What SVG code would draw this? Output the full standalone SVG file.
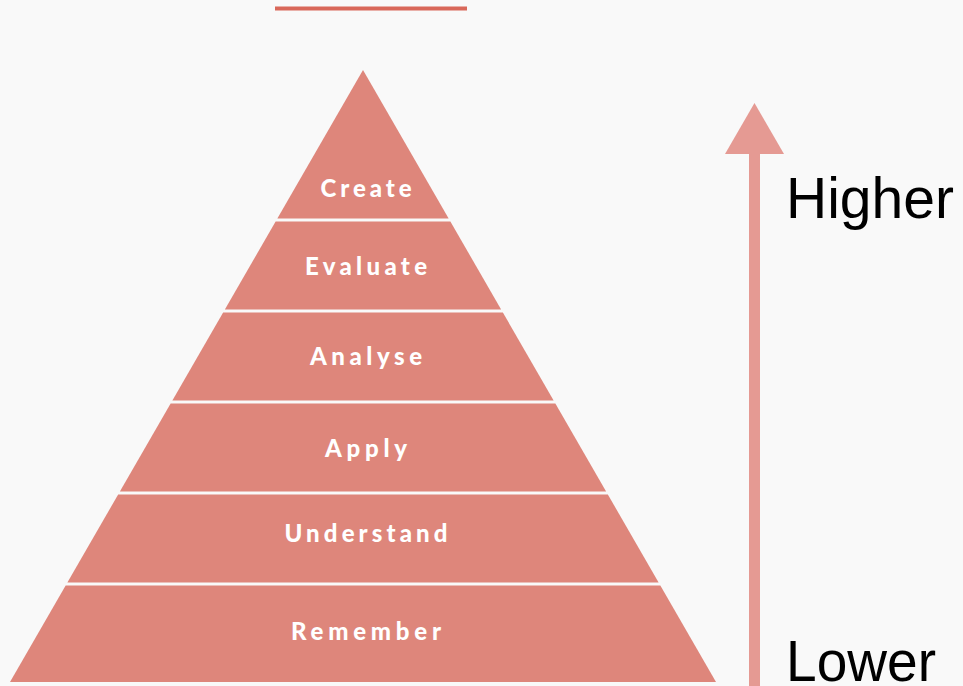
<svg xmlns="http://www.w3.org/2000/svg" width="963" height="686" viewBox="0 0 963 686">
<style>
.band{fill:#de867b}
.lbl{font-family:Lato,"Open Sans","Liberation Sans",sans-serif;font-weight:900;font-size:24px;fill:#ffffff;text-anchor:middle}
.big{font-family:"Liberation Sans",Arial,sans-serif;font-size:57px;fill:#000000}
</style>
<rect width="963" height="686" fill="#f9f9f9"/>
<rect x="275" y="6.5" width="192" height="4" fill="#d9685a"/>
<g id="create"><polygon class="band" points="363,70 448.65,218.5 277.35,218.5"/><text class="lbl" x="366" y="197" textLength="91" lengthAdjust="spacing">Create</text></g>
<g id="evaluate"><polygon class="band" points="275.62,221.5 450.38,221.5 501.14,309.5 224.86,309.5"/><text class="lbl" x="366" y="275" textLength="122" lengthAdjust="spacing">Evaluate</text></g>
<g id="analyse"><polygon class="band" points="223.13,312.5 502.87,312.5 553.63,400.5 172.37,400.5"/><text class="lbl" x="366" y="365" textLength="112" lengthAdjust="spacing">Analyse</text></g>
<g id="apply"><polygon class="band" points="170.64,403.5 555.36,403.5 606.12,491.5 119.88,491.5"/><text class="lbl" x="366" y="457" textLength="82" lengthAdjust="spacing">Apply</text></g>
<g id="understand"><polygon class="band" points="118.15,494.5 607.85,494.5 658.61,582.5 67.39,582.5"/><text class="lbl" x="366" y="542" textLength="163" lengthAdjust="spacing">Understand</text></g>
<g id="remember"><polygon class="band" points="65.66,585.5 660.34,585.5 716,682 10,682"/><text class="lbl" x="366" y="640" textLength="150" lengthAdjust="spacing">Remember</text></g>
<g id="connectors">
<rect x="749" y="150" width="11" height="536" fill="#e59a93"/>
<polygon points="754.5,103 784,154 725,154" fill="#e59a93"/>
</g>
<g id="higher"><text class="big" x="786" y="218">Higher</text></g>
<g id="lower"><text class="big" x="786" y="681" textLength="150" lengthAdjust="spacingAndGlyphs">Lower</text></g>
</svg>
